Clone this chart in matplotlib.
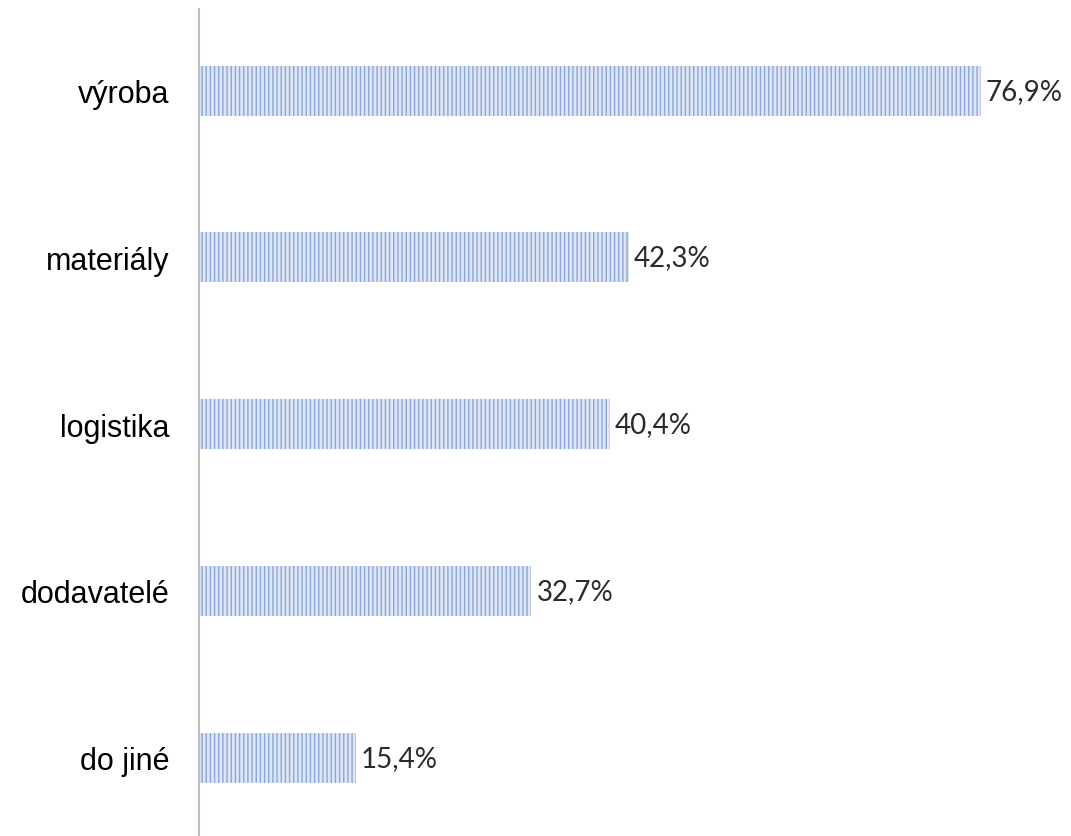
import matplotlib.pyplot as plt

# Data
categories = ["výroba", "materiály", "logistika", "dodavatelé", "do jiné"]
values = [76.9, 42.3, 40.4, 32.7, 15.4]
value_labels = ["76,9%", "42,3%", "40,4%", "32,7%", "15,4%"]

plt.rcParams["hatch.linewidth"] = 1.0

fig = plt.figure(figsize=(10.71, 8.37), dpi=100)
ax = fig.add_axes([199 / 1071, 0.0, 1 - 199 / 1071, 827 / 837])

y = list(range(len(categories)))
bars = ax.barh(
    y,
    values,
    height=0.3,
    color="#dde6f6",
    edgecolor="#8ea6d4",
    hatch="||||",
    linewidth=0,
)

for bar, lab in zip(bars, value_labels):
    ax.text(
        bar.get_width() + 0.5,
        bar.get_y() + bar.get_height() / 2,
        lab,
        va="center",
        ha="left",
        fontsize=20,
        family="Lato",
        fontweight="normal",
        color="#2a2a2a",
    )

ax.set_yticks(y)
ax.set_yticklabels(categories, fontsize=22, family="Liberation Sans")
ax.tick_params(axis="y", length=0, pad=21)
ax.set_xticks([])
ax.set_xlim(0, 85.8)
ax.set_ylim(4.47, -0.49)

for side in ["top", "right", "bottom"]:
    ax.spines[side].set_visible(False)
ax.spines["left"].set_color("#bfbfbf")
ax.spines["left"].set_linewidth(1.5)

fig.savefig("out.png", dpi=100)
